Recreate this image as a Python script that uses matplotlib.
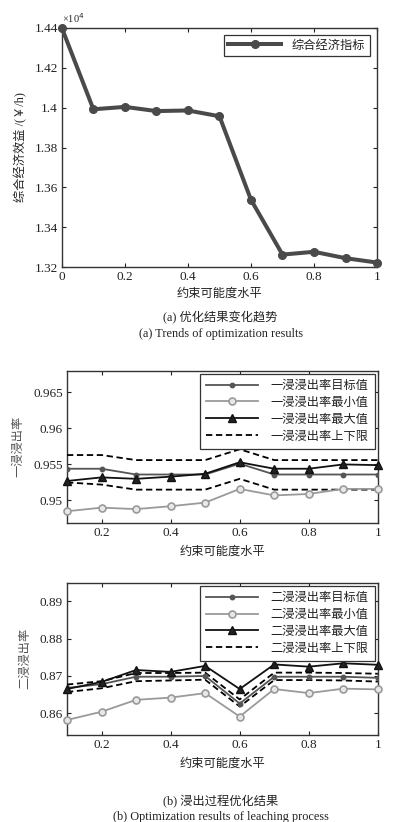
import matplotlib
matplotlib.use('Agg')
import numpy as np
import matplotlib.pyplot as plt
from matplotlib.ticker import FuncFormatter

plt.rcParams['font.family'] = ['Liberation Serif', 'Noto Sans CJK SC']
plt.rcParams['axes.unicode_minus'] = False

# (a) comprehensive economic index, unit: yuan/h
level_a = [0.0, 0.1, 0.2, 0.3, 0.4, 0.5, 0.6, 0.7, 0.8, 0.9, 1.0]
econ = [14400, 13992, 14004, 13983, 13986, 13957, 13538, 13263, 13277, 13245, 13223]

# (b) leaching rates
level_b = [0.1, 0.2, 0.3, 0.4, 0.5, 0.6, 0.7, 0.8, 0.9, 1.0]
r1_target = [0.9544, 0.9544, 0.9536, 0.9536, 0.9536, 0.9551, 0.9536, 0.9536, 0.9536, 0.9536]
r1_min = [0.9485, 0.9490, 0.9488, 0.9492, 0.9497, 0.9516, 0.9507, 0.9509, 0.9516, 0.9516]
r1_max = [0.9527, 0.9532, 0.9530, 0.9533, 0.9537, 0.9553, 0.9544, 0.9544, 0.9550, 0.9549]
r1_upper = [0.9563, 0.9563, 0.9556, 0.9556, 0.9556, 0.9571, 0.9556, 0.9556, 0.9556, 0.9556]
r1_lower = [0.9525, 0.9522, 0.9515, 0.9515, 0.9515, 0.9530, 0.9515, 0.9515, 0.9515, 0.9515]

r2_target = [0.8668, 0.8678, 0.8698, 0.8698, 0.8700, 0.8626, 0.8698, 0.8698, 0.8698, 0.8695]
r2_min = [0.8582, 0.8604, 0.8636, 0.8642, 0.8654, 0.8591, 0.8665, 0.8654, 0.8666, 0.8664]
r2_max = [0.8665, 0.8684, 0.8716, 0.8711, 0.8727, 0.8665, 0.8731, 0.8725, 0.8734, 0.8730]
r2_upper = [0.8677, 0.8686, 0.8708, 0.8708, 0.8709, 0.8637, 0.8709, 0.8709, 0.8708, 0.8706]
r2_lower = [0.8657, 0.8667, 0.8686, 0.8688, 0.8690, 0.8618, 0.8689, 0.8689, 0.8688, 0.8685]

txt = '#222222'
fs_tick = 9.5
fs_lab = 8.8

fmt = FuncFormatter(lambda v, p: '%g' % round(v, 6))

def style_axes(ax):
    ax.tick_params(direction='in', top=True, right=True, labelsize=fs_tick,
                   colors=txt, length=3, width=0.8, pad=3)
    for s in ax.spines.values():
        s.set_color('#333333')
        s.set_linewidth(1.0)
    ax.xaxis.set_major_formatter(fmt)
    ax.yaxis.set_major_formatter(fmt)

def style_legend(lg):
    lg.get_frame().set_linewidth(0.9)
    for t in lg.get_texts():
        t.set_color(txt)

fig = plt.figure(figsize=(3.94, 8.22), dpi=100)

# panel (a)
ax1 = fig.add_axes([0.157, 0.675, 0.800, 0.291])
ax1.plot(level_a, np.array(econ) / 1e4, color='#4a4a4a', lw=2.9, marker='o',
         ms=5.5, label='综合经济指标', clip_on=False, zorder=5)
ax1.set_xlim(0, 1)
ax1.set_ylim(1.32, 1.44)
ax1.set_xticks(np.arange(0, 1.01, 0.2))
ax1.set_yticks(np.arange(1.32, 1.441, 0.02))
style_axes(ax1)
ax1.set_xlabel('约束可能度水平', fontsize=fs_lab, color=txt, labelpad=3)
ax1.set_ylabel('综合经济效益 /(￥/h)', fontsize=fs_lab, color=txt, labelpad=5)
ax1.text(0.0, 1.012, '×10$^4$', transform=ax1.transAxes, fontsize=7.5,
         color=txt, ha='left', va='bottom')
leg = ax1.legend(loc='upper right', fontsize=fs_lab, handlelength=4.3,
                 handletextpad=0.9, fancybox=False, edgecolor='#333333',
                 framealpha=1, borderaxespad=0.6, borderpad=0.35)
style_legend(leg)
fig.text(0.56, 0.613, '(a) 优化结果变化趋势', fontsize=fs_lab, color=txt, ha='center', va='center')
fig.text(0.56, 0.594, '(a) Trends of optimization results', fontsize=fs_lab, color=txt,
         ha='center', va='center')


def leach_panel(rect, tgt, mn, mx, up, lo, name, ylim, yticks):
    ax = fig.add_axes(rect)
    ax.plot(level_b, tgt, color='#555555', lw=1.3, marker='o', ms=3.2,
            label=name + '目标值', zorder=4)
    ax.plot(level_b, mn, color='#9a9a9a', lw=1.3, marker='o', ms=5,
            mfc='#e8e8e8', mec='#9a9a9a', mew=1.2, label=name + '最小值', zorder=4,
            clip_on=False)
    ax.plot(level_b, mx, color='#111111', lw=1.3, marker='^', ms=5.5,
            mfc='#222222', label=name + '最大值', zorder=5, clip_on=False)
    ax.plot(level_b, up, color='black', lw=1.3, ls=(0, (3.5, 2)), label=name + '上下限', zorder=3)
    ax.plot(level_b, lo, color='black', lw=1.3, ls=(0, (3.5, 2)), zorder=3)
    ax.set_xlim(0.1, 1)
    ax.set_ylim(*ylim)
    ax.set_xticks(np.arange(0.2, 1.01, 0.2))
    ax.set_yticks(yticks)
    style_axes(ax)
    ax.set_xlabel('约束可能度水平', fontsize=fs_lab, color=txt, labelpad=5)
    ax.set_ylabel(name, fontsize=fs_lab, color='#555555', labelpad=6)
    lg = ax.legend(loc='upper right', fontsize=fs_lab, handlelength=4.3,
                   handletextpad=1.0, fancybox=False, edgecolor='#333333',
                   framealpha=1, borderaxespad=0.25, borderpad=0.5,
                   labelspacing=0.4)
    style_legend(lg)
    return ax

ax2 = leach_panel([0.170, 0.364, 0.789, 0.185], r1_target, r1_min, r1_max, r1_upper, r1_lower,
                  '一浸浸出率', (0.9469, 0.968), [0.95, 0.955, 0.96, 0.965])
ax3 = leach_panel([0.170, 0.106, 0.789, 0.185], r2_target, r2_min, r2_max, r2_upper, r2_lower,
                  '二浸浸出率', (0.8542, 0.895), [0.86, 0.87, 0.88, 0.89])

fig.text(0.56, 0.025, '(b) 浸出过程优化结果', fontsize=fs_lab, color=txt, ha='center', va='center')
fig.text(0.56, 0.006, '(b) Optimization results of leaching process', fontsize=fs_lab,
         color=txt, ha='center', va='center')

fig.savefig('out.png', dpi=100, facecolor='white')
